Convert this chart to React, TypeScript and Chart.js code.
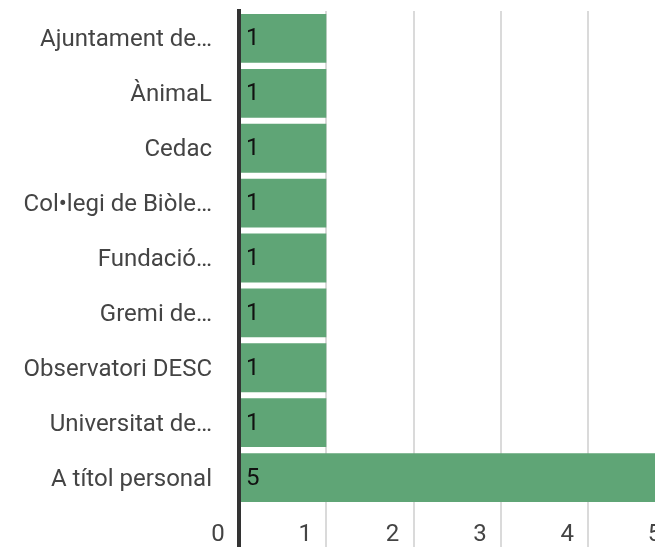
import React, { useEffect, useRef } from "react";
import { Chart, registerables } from "chart.js";

Chart.register(...registerables);

const categories = [
  "Ajuntament de…",
  "ÀnimaL",
  "Cedac",
  "Col•legi de Biòle…",
  "Fundació…",
  "Gremi de…",
  "Observatori DESC",
  "Universitat de…",
  "A títol personal",
];
const values = [1, 1, 1, 1, 1, 1, 1, 1, 5];
const axisMin = 0;
const axisMax = 5;

const FONT = "Roboto, 'Noto Sans', sans-serif";

const valueLabels = {
  id: "valueLabels",
  afterDatasetsDraw(chart: any) {
    const ctx = chart.ctx;
    const xScale = chart.scales.x;
    const meta = chart.getDatasetMeta(0);
    const data = chart.data.datasets[0].data;
    ctx.save();
    ctx.font = `24px ${FONT}`;
    ctx.fillStyle = "#111";
    ctx.textAlign = "left";
    ctx.textBaseline = "middle";
    meta.data.forEach((el: any, i: number) => {
      const x0 = xScale.getPixelForValue(0);
      ctx.fillText(String(data[i]), x0 + 7, el.y + 1);
    });
    ctx.restore();
  },
};

export default function App() {
  const ref = useRef<HTMLCanvasElement | null>(null);
  useEffect(() => {
    if (!ref.current) return;
    const chart = new Chart(ref.current, {
      type: "bar",
      data: {
        labels: categories,
        datasets: [
          {
            data: values,
            backgroundColor: "#5fa576",
            borderWidth: 0,
            barPercentage: 1,
            categoryPercentage: 0.89,
          },
        ],
      },
      options: {
        indexAxis: "y",
        animation: false,
        responsive: false,
        devicePixelRatio: 1,
        layout: { padding: { top: 11, right: 24.5, bottom: 0, left: 0 } },
        plugins: {
          legend: { display: false },
          tooltip: { enabled: false },
        },
        scales: {
          x: {
            type: "linear",
            min: axisMin,
            max: axisMax,
            border: { display: false },
            grid: {
              color: (c: any) => (c.tick && c.tick.value === 0 ? "#333" : "#dadada"),
              lineWidth: (c: any) => (c.tick && c.tick.value === 0 ? 4 : 2),
              drawTicks: true,
              tickLength: 42,
            },
            ticks: {
              stepSize: 1,
              labelOffset: -21,
              padding: -26,
              color: "#444",
              font: { family: FONT, size: 24 },
            },
            afterFit: (s: any) => {
              s.height = 42;
            },
          },
          y: {
            z: 1,
            border: { display: true, color: "#333", width: 4 },
            grid: { display: false, drawTicks: true, tickLength: 27 },
            ticks: {
              padding: 0,
              labelOffset: 2,
              color: "#444",
              font: { family: FONT, size: 24, lineHeight: 0.8 },
            },
            afterFit: (s: any) => {
              s.width = 239;
            },
          },
        },
      },
      plugins: [valueLabels],
    } as any);
    return () => chart.destroy();
  }, []);
  return (
    <div
      style={{
        position: "fixed",
        left: 0,
        top: 0,
        width: 655,
        height: 547,
        overflow: "hidden",
        background: "#fff",
      }}
    >
      <canvas
        ref={ref}
        width={700}
        height={547}
        style={{ display: "block", width: 700, height: 547 }}
      />
    </div>
  );
}
